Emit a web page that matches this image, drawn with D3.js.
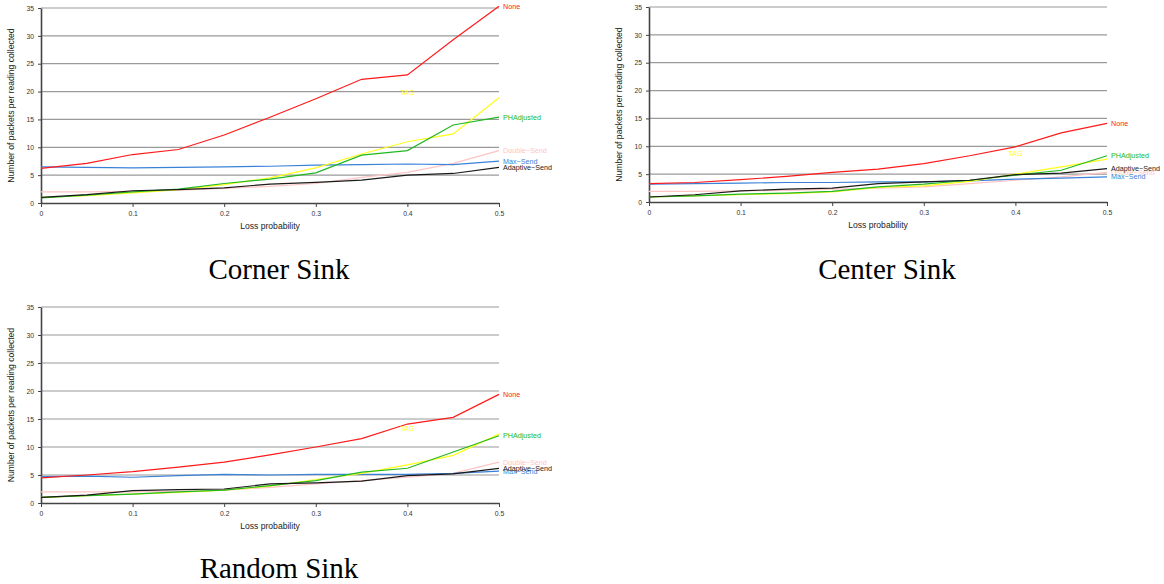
<!DOCTYPE html>
<html>
  <head>
    <meta charset="utf-8">
    <title>Packets per reading</title>
    <script type="text/javascript" src="https://cdn.jsdelivr.net/npm/d3@7"></script>
    <style>
      body { margin: 0; background: #fff; }
      svg { display: block; }
    </style>
  </head>
  <body>
    <script type="text/javascript">
     // loss probabilities on the x axis
     let lossProb = [0, 0.05, 0.1, 0.15, 0.2, 0.25, 0.3, 0.35, 0.4, 0.45, 0.5];
     let xTicks = [0, 0.1, 0.2, 0.3, 0.4, 0.5];
     let yTicks = [0, 5, 10, 15, 20, 25, 30, 35];

     let seriesNames = ["None", "TAG", "PHAdjusted", "Double\u2212Send", "Max\u2212Send", "Adaptive\u2212Send"];
     let seriesColors = ["#ff1a1a", "#ffff1a", "#22b822", "#ffc4c4", "#3a82d8", "#1a1a1a"];
     // draw order (pink under, black on top)
     let drawOrder = [3, 4, 1, 2, 0, 5];

     // Corner sink
     let cornerNone     = [6.2, 7.1, 8.7, 9.6, 12.2, 15.4, 18.7, 22.2, 23.0, 29.3, 35.3];
     let cornerTag      = [1.0, 1.3, 1.8, 2.4, 3.3, 4.5, 6.3, 8.8, 11.0, 12.4, 18.9];
     let cornerPH       = [0.9, 1.4, 2.0, 2.5, 3.5, 4.3, 5.4, 8.6, 9.4, 14.0, 15.4];
     let cornerDouble   = [2.0, 2.0, 2.1, 2.3, 2.6, 3.0, 3.5, 4.6, 5.5, 7.1, 9.4];
     let cornerMax      = [6.5, 6.4, 6.3, 6.4, 6.5, 6.6, 6.8, 6.9, 7.0, 6.9, 7.5];
     let cornerAdaptive = [1.0, 1.5, 2.2, 2.4, 2.7, 3.4, 3.7, 4.1, 5.0, 5.3, 6.4];
     let cornerTagLabel = [0.4, 19.8];

     // Center sink
     let centerNone     = [3.3, 3.5, 4.0, 4.6, 5.3, 5.9, 6.9, 8.3, 9.9, 12.4, 14.1];
     let centerTag      = [0.9, 1.1, 1.3, 1.5, 1.8, 2.6, 2.9, 3.7, 5.0, 6.3, 7.7];
     let centerPH       = [0.9, 1.1, 1.4, 1.6, 1.9, 2.7, 3.2, 3.9, 4.8, 5.7, 8.3];
     let centerDouble   = [1.9, 1.9, 2.0, 2.1, 2.3, 2.5, 2.7, 3.3, 3.9, 4.5, 5.3];
     let centerMax      = [3.2, 3.3, 3.4, 3.5, 3.5, 3.6, 3.6, 3.8, 4.1, 4.3, 4.5];
     let centerAdaptive = [0.9, 1.3, 2.0, 2.3, 2.5, 3.3, 3.6, 3.9, 4.9, 5.2, 6.0];
     let centerTagLabel = [0.4, 8.7];

     // Random sink
     let randomNone     = [4.5, 5.0, 5.6, 6.4, 7.3, 8.6, 10.0, 11.5, 14.1, 15.3, 19.4];
     let randomTag      = [1.0, 1.3, 1.6, 1.9, 2.3, 3.0, 4.2, 5.3, 6.8, 8.5, 12.3];
     let randomPH       = [1.0, 1.3, 1.6, 2.0, 2.3, 3.1, 4.0, 5.5, 6.2, 9.1, 12.0];
     let randomDouble   = [2.0, 2.0, 2.0, 2.1, 2.3, 2.8, 3.4, 4.0, 4.6, 5.3, 7.3];
     let randomMax      = [4.7, 4.8, 4.6, 4.9, 5.1, 5.0, 5.1, 5.1, 5.1, 5.3, 5.7];
     let randomAdaptive = [1.0, 1.4, 2.2, 2.4, 2.5, 3.4, 3.6, 3.9, 4.9, 5.2, 6.2];
     let randomTagLabel = [0.4, 13.3];

     let panels = [
       {title: "Corner Sink", left: 41, right: 499, top: 8, bottom: 203, titleY: 279,
        series: [cornerNone, cornerTag, cornerPH, cornerDouble, cornerMax, cornerAdaptive], tag: cornerTagLabel},
       {title: "Center Sink", left: 649, right: 1107, top: 7, bottom: 202, titleY: 279,
        series: [centerNone, centerTag, centerPH, centerDouble, centerMax, centerAdaptive], tag: centerTagLabel},
       {title: "Random Sink", left: 41, right: 499, top: 307, bottom: 503, titleY: 578,
        series: [randomNone, randomTag, randomPH, randomDouble, randomMax, randomAdaptive], tag: randomTagLabel}
     ];

     let svg = d3.select("body").append("svg")
       .attr("width", 1164)
       .attr("height", 584);

     panels.forEach((p) => {
       let g = svg.append("g");

       let xScale = d3.scaleLinear().domain([0, 0.5]).range([p.left, p.right]);
       let yScale = d3.scaleLinear().domain([0, 35]).range([p.bottom, p.top]);

       // grid lines
       g.selectAll("line.grid")
        .data(yTicks.slice(1))
        .enter()
        .append("line")
        .attr("class", "grid")
        .attr("x1", p.left)
        .attr("x2", p.right)
        .attr("y1", (d) => yScale(d))
        .attr("y2", (d) => yScale(d))
        .attr("stroke", "#9a9a9a")
        .attr("stroke-width", 1.2);

       // axes
       let xAxis = d3.axisBottom(xScale)
                     .tickValues(xTicks)
                     .tickSize(4)
                     .tickSizeOuter(0)
                     .tickFormat((d) => d === 0 ? "0" : d3.format(".1f")(d));
       let gx = g.append("g")
                 .attr("transform", "translate(0, " + p.bottom + ")")
                 .call(xAxis);
       let yAxis = d3.axisLeft(yScale)
                     .tickValues(yTicks)
                     .tickSize(3)
                     .tickSizeOuter(0);
       let gy = g.append("g")
                 .attr("transform", "translate(" + p.left + ", 0)")
                 .call(yAxis);
       [gx, gy].forEach((a) => {
         a.select(".domain").attr("stroke", "#444").attr("stroke-width", 1.6);
         a.selectAll(".tick line").attr("stroke", "#444");
         a.selectAll(".tick text")
          .attr("fill", "#333")
          .attr("font-family", "Liberation Sans, Arial, sans-serif")
          .attr("font-size", 6.8);
       });
       gy.selectAll(".tick text").attr("x", -7);
       gx.selectAll(".tick text").attr("y", 8);

       // axis titles
       g.append("text")
        .attr("x", (p.left + p.right) / 2)
        .attr("y", p.bottom + 26)
        .attr("text-anchor", "middle")
        .attr("font-family", "Liberation Sans, Arial, sans-serif")
        .attr("font-size", 8.6)
        .attr("fill", "#222")
        .text("Loss probability");
       g.append("text")
        .attr("transform", "translate(" + (p.left - 27) + ", " + ((p.top + p.bottom) / 2) + ") rotate(-90)")
        .attr("text-anchor", "middle")
        .attr("font-family", "Liberation Sans, Arial, sans-serif")
        .attr("font-size", 8.6)
        .attr("fill", "#222")
        .text("Number of packets per reading collected");

       // lines
       let line = d3.line()
                    .x((d, i) => xScale(lossProb[i]))
                    .y((d) => yScale(d));
       drawOrder.forEach((k) => {
         g.append("path")
          .datum(p.series[k])
          .attr("d", line)
          .attr("fill", "none")
          .attr("stroke", seriesColors[k])
          .attr("stroke-width", 1.2);
       });

       // series labels at the end of each line (TAG sits mid-plot)
       drawOrder.forEach((k) => {
         let vals = p.series[k];
         let lx = k === 1 ? xScale(p.tag[0]) : p.right + 4;
         let ly = k === 1 ? yScale(p.tag[1]) : yScale(vals[vals.length - 1]);
         g.append("text")
          .attr("x", lx)
          .attr("y", ly)
          .attr("dy", "0.35em")
          .attr("text-anchor", k === 1 ? "middle" : "start")
          .attr("font-family", "Liberation Sans, Arial, sans-serif")
          .attr("font-size", 7.2)
          .attr("fill", seriesColors[k])
          .text(seriesNames[k]);
       });

       // panel title
       svg.append("text")
          .attr("x", (p.left + p.right) / 2 + 9)
          .attr("y", p.titleY)
          .attr("text-anchor", "middle")
          .attr("font-family", "Liberation Serif, Times New Roman, serif")
          .attr("font-size", 29)
          .attr("fill", "#000")
          .text(p.title);
     });
    </script>
  </body>
</html>
